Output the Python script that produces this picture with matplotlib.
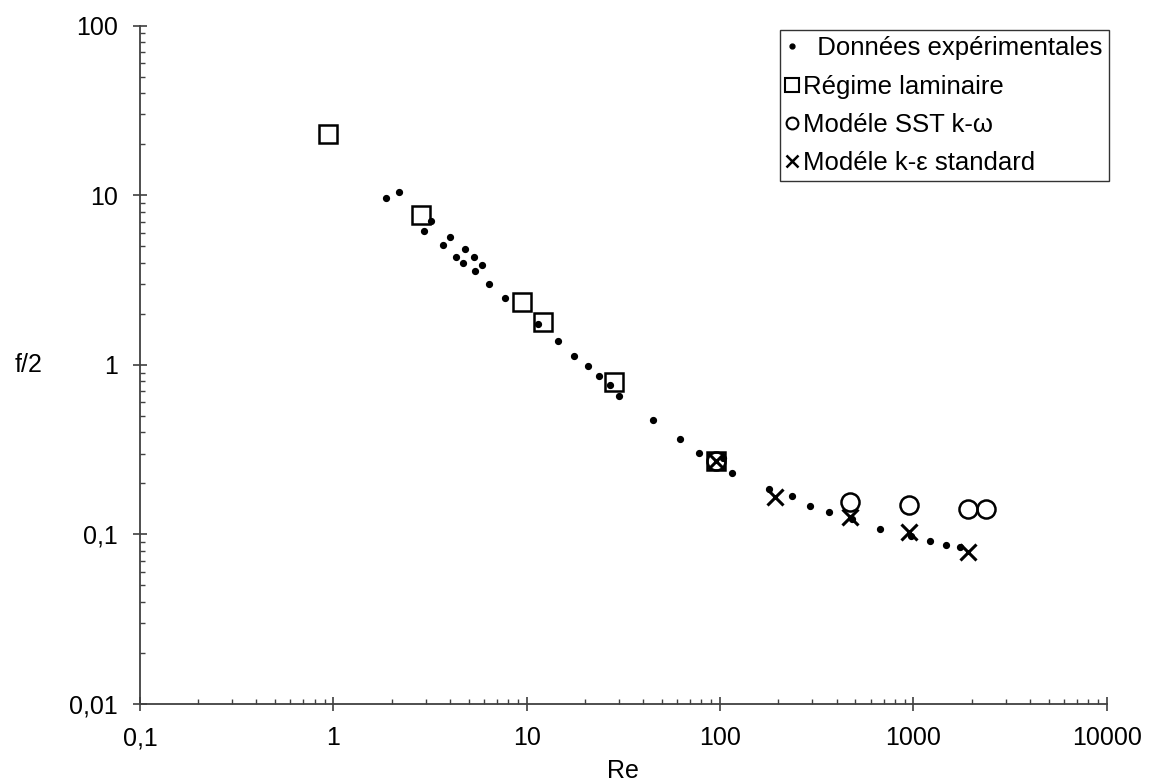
import matplotlib
matplotlib.use("Agg")
import matplotlib.pyplot as plt
from matplotlib.lines import Line2D
from matplotlib.ticker import FixedLocator, FixedFormatter, LogLocator, NullFormatter

plt.rcParams["font.family"] = ["Liberation Sans", "DejaVu Sans"]

# experimental data (Re, f/2)
exp_re = [1.87, 2.19, 2.96, 3.19, 3.68, 4.03, 4.33, 4.69, 4.82, 5.32, 5.41, 5.90,
          6.37, 7.70, 11.4, 14.5, 17.6, 20.8, 23.7, 26.8, 30.1, 45.2, 61.7, 78.2,
          104, 115, 179, 234, 292, 365, 481, 668, 971, 1222, 1479, 1746]
exp_f = [9.60, 10.4, 6.18, 7.08, 5.07, 5.70, 4.35, 3.99, 4.80, 4.35, 3.56, 3.87,
         3.00, 2.49, 1.75, 1.38, 1.12, 0.985, 0.860, 0.764, 0.658, 0.470, 0.364, 0.304,
         0.281, 0.231, 0.185, 0.168, 0.147, 0.135, 0.123, 0.108, 0.098, 0.092, 0.087, 0.084]

# laminar regime
lam_re = [0.94, 2.84, 9.47, 12.2, 28.3, 95.5]
lam_f = [23.0, 7.65, 2.35, 1.79, 0.79, 0.271]

# SST k-omega
sst_re = [95.5, 471, 951, 1905, 2371]
sst_f = [0.271, 0.156, 0.149, 0.141, 0.142]

# standard k-epsilon
ke_re = [95.5, 193, 471, 951, 1920]
ke_f = [0.271, 0.167, 0.127, 0.104, 0.079]

fig = plt.figure(figsize=(11.53, 7.83), dpi=100)
ax = fig.add_axes([0.1214, 0.1009, 0.8386, 0.8663])

ax.plot(exp_re, exp_f, "o", color="black", ms=4.2, ls="none", zorder=3)
ax.plot(lam_re, lam_f, "s", mfc="none", mec="black", mew=1.8, ms=13, ls="none", zorder=4)
ax.plot(sst_re, sst_f, "o", mfc="none", mec="black", mew=1.8, ms=13, ls="none", zorder=4)
ax.plot(ke_re, ke_f, "x", color="black", mew=2.2, ms=11, ls="none", zorder=4)

ax.set_xscale("log")
ax.set_yscale("log")
ax.set_xlim(0.1, 10000)
ax.set_ylim(0.01, 100)

xt = [0.1, 1, 10, 100, 1000, 10000]
yt = [0.01, 0.1, 1, 10, 100]
ax.xaxis.set_major_locator(FixedLocator(xt))
ax.xaxis.set_major_formatter(FixedFormatter(["0,1", "1", "10", "100", "1000", "10000"]))
ax.yaxis.set_major_locator(FixedLocator(yt))
ax.yaxis.set_major_formatter(FixedFormatter(["0,01", "0,1", "1", "10", "100"]))
for a in (ax.xaxis, ax.yaxis):
    a.set_minor_locator(LogLocator(base=10, subs=range(2, 10), numticks=20))
    a.set_minor_formatter(NullFormatter())

for s in ("top", "right"):
    ax.spines[s].set_visible(False)
for s in ("left", "bottom"):
    ax.spines[s].set_color("#404040")
    ax.spines[s].set_linewidth(1.3)

ax.tick_params(which="major", direction="inout", length=10, width=1.2,
               color="#404040", labelsize=18)
ax.tick_params(which="minor", direction="in", length=3.8, width=1.0, color="#404040")
ax.tick_params(axis="y", which="major", pad=11)
ax.tick_params(axis="x", which="major", pad=11)

ax.set_xlabel("Re", fontsize=18, labelpad=6)
ax.set_ylabel("f/2", fontsize=18, rotation=0, labelpad=29, va="center")

handles = [
    Line2D([], [], marker="o", color="black", ms=3.5, ls="none"),
    Line2D([], [], marker="s", mfc="none", mec="black", mew=1.5, ms=10, ls="none"),
    Line2D([], [], marker="o", mfc="none", mec="black", mew=1.5, ms=8.5, ls="none"),
    Line2D([], [], marker="x", color="black", mew=1.8, ms=8, ls="none"),
]
labels = ["  Données expérimentales", "Régime laminaire", "Modéle SST k-ω", "Modéle k-ε standard"]
leg = fig.legend(handles, labels, loc="upper left", bbox_to_anchor=(780 / 1153, 1 - 30 / 783),
                 fontsize=18.5, frameon=True, fancybox=False, edgecolor="black",
                 handlelength=0.45, handletextpad=0.2, labelspacing=0.55,
                 borderpad=0.25, borderaxespad=0)
leg.get_frame().set_linewidth(1.0)

fig.savefig("out.png", dpi=100)
